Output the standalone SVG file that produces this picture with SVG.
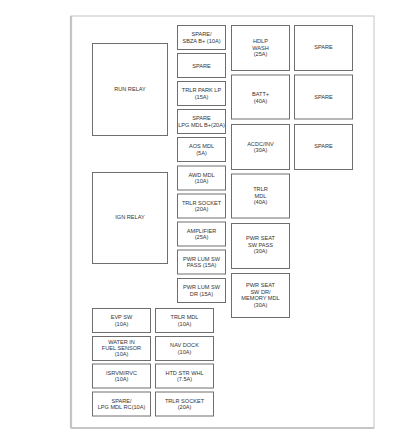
<svg xmlns="http://www.w3.org/2000/svg" width="412" height="441" viewBox="0 0 412 441">
<style>
.b{fill:#fff;stroke:#6e6e6e;stroke-width:1}
.t{font-family:"Liberation Sans",Arial,sans-serif;font-size:5.6px;fill:#333;text-anchor:middle}
</style>
<rect width="412" height="441" fill="#fff"/>
<g id="frame">
<rect x="71" y="16" width="303" height="412" fill="none" stroke="#c4c4c4" stroke-width="1"/>
<line x1="71" y1="16" x2="71" y2="428" stroke="#c4c4c4" stroke-width="2.2"/>
<line x1="71" y1="428" x2="374" y2="428" stroke="#bdbdbd" stroke-width="1.6"/>
</g>
<g id="run-relay"><rect class="b" x="92.5" y="43.5" width="75" height="92"/><text class="t" x="130" y="91">RUN RELAY</text></g>
<g id="ign-relay"><rect class="b" x="92.5" y="172.5" width="75" height="91"/><text class="t" x="130" y="219">IGN RELAY</text></g>

<g id="f1"><rect class="b" x="177.5" y="25.5" width="48" height="24"/><text class="t" x="201.5" y="36">SPARE/</text><text class="t" x="201.5" y="42.5">SBZA B+ (10A)</text></g>
<g id="f2"><rect class="b" x="177.5" y="53.5" width="48" height="24"/><text class="t" x="201.5" y="67.5">SPARE</text></g>
<g id="f3"><rect class="b" x="177.5" y="81.5" width="48" height="24"/><text class="t" x="201.5" y="92">TRLR PARK LP</text><text class="t" x="201.5" y="98.5">(15A)</text></g>
<g id="f4"><rect class="b" x="177.5" y="109.5" width="48" height="24"/><text class="t" x="201.5" y="120">SPARE</text><text class="t" x="201.5" y="126.5">LPG MDL B+(20A)</text></g>
<g id="f5"><rect class="b" x="177.5" y="137.5" width="48" height="24"/><text class="t" x="201.5" y="148">AOS MDL</text><text class="t" x="201.5" y="154.5">(5A)</text></g>
<g id="f6"><rect class="b" x="177.5" y="166" width="48" height="24"/><text class="t" x="201.5" y="176.5">AWD MDL</text><text class="t" x="201.5" y="183">(10A)</text></g>
<g id="f7"><rect class="b" x="177.5" y="194" width="48" height="24"/><text class="t" x="201.5" y="204.5">TRLR SOCKET</text><text class="t" x="201.5" y="211">(20A)</text></g>
<g id="f8"><rect class="b" x="177.5" y="222" width="48" height="24"/><text class="t" x="201.5" y="232.5">AMPLIFIER</text><text class="t" x="201.5" y="239">(25A)</text></g>
<g id="f9"><rect class="b" x="177.5" y="250" width="48" height="24"/><text class="t" x="201.5" y="260.5">PWR LUM SW</text><text class="t" x="201.5" y="267">PASS (15A)</text></g>
<g id="f10"><rect class="b" x="177.5" y="278.5" width="48" height="24"/><text class="t" x="201.5" y="289">PWR LUM SW</text><text class="t" x="201.5" y="295.5">DR (15A)</text></g>

<g id="m1"><rect class="b" x="231.5" y="25.5" width="58" height="45"/><text class="t" x="260.5" y="43">HDLP</text><text class="t" x="260.5" y="49.5">WASH</text><text class="t" x="260.5" y="56">(25A)</text></g>
<g id="m2"><rect class="b" x="231.5" y="75" width="58" height="44"/><text class="t" x="260.5" y="96">BATT+</text><text class="t" x="260.5" y="102.5">(40A)</text></g>
<g id="m3"><rect class="b" x="231.5" y="124.5" width="58" height="45"/><text class="t" x="260.5" y="145.5">ACDC/INV</text><text class="t" x="260.5" y="152">(30A)</text></g>
<g id="m4"><rect class="b" x="231.5" y="174" width="58" height="44"/><text class="t" x="260.5" y="191">TRLR</text><text class="t" x="260.5" y="197.5">MDL</text><text class="t" x="260.5" y="204">(40A)</text></g>
<g id="m5"><rect class="b" x="231.5" y="223.5" width="58" height="45"/><text class="t" x="260.5" y="240">PWR SEAT</text><text class="t" x="260.5" y="246.5">SW PASS</text><text class="t" x="260.5" y="253">(30A)</text></g>
<g id="m6"><rect class="b" x="231.5" y="273.5" width="58" height="44"/><text class="t" x="260.5" y="287">PWR SEAT</text><text class="t" x="260.5" y="293.5">SW DR/</text><text class="t" x="260.5" y="300">MEMORY MDL</text><text class="t" x="260.5" y="306.5">(30A)</text></g>

<g id="s1"><rect class="b" x="294.5" y="25.5" width="58" height="45"/><text class="t" x="323.5" y="49">SPARE</text></g>
<g id="s2"><rect class="b" x="294.5" y="75" width="58" height="44"/><text class="t" x="323.5" y="98.5">SPARE</text></g>
<g id="s3"><rect class="b" x="294.5" y="124.5" width="58" height="45"/><text class="t" x="323.5" y="148">SPARE</text></g>

<g id="b1"><rect class="b" x="92.5" y="308.5" width="58" height="24"/><text class="t" x="121.5" y="319">EVP SW</text><text class="t" x="121.5" y="325.5">(10A)</text></g>
<g id="b2"><rect class="b" x="92.5" y="336.5" width="58" height="24"/><text class="t" x="121.5" y="344">WATER IN</text><text class="t" x="121.5" y="350">FUEL SENSOR</text><text class="t" x="121.5" y="356">(10A)</text></g>
<g id="b3"><rect class="b" x="92.5" y="364" width="58" height="24"/><text class="t" x="121.5" y="374.5">ISRVM/RVC</text><text class="t" x="121.5" y="381">(10A)</text></g>
<g id="b4"><rect class="b" x="92.5" y="392" width="58" height="24"/><text class="t" x="121.5" y="402.5">SPARE/</text><text class="t" x="121.5" y="409">LPG MDL RC(10A)</text></g>
<g id="b5"><rect class="b" x="155.5" y="308.5" width="58" height="24"/><text class="t" x="184.5" y="319">TRLR MDL</text><text class="t" x="184.5" y="325.5">(10A)</text></g>
<g id="b6"><rect class="b" x="155.5" y="336.5" width="58" height="24"/><text class="t" x="184.5" y="347">NAV DOCK</text><text class="t" x="184.5" y="353.5">(10A)</text></g>
<g id="b7"><rect class="b" x="155.5" y="364" width="58" height="24"/><text class="t" x="184.5" y="374.5">HTD STR WHL</text><text class="t" x="184.5" y="381">(7.5A)</text></g>
<g id="b8"><rect class="b" x="155.5" y="392" width="58" height="24"/><text class="t" x="184.5" y="402.5">TRLR SOCKET</text><text class="t" x="184.5" y="409">(20A)</text></g>
<g id="connectors"></g>
</svg>
